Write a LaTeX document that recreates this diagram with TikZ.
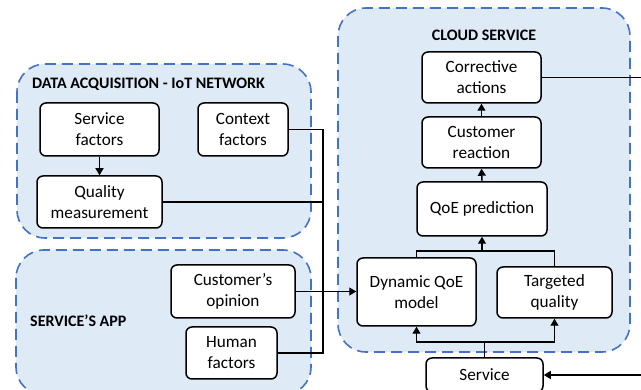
\documentclass[tikz,border=0pt]{standalone}
\usepackage{fontspec}
\setmainfont{Carlito}
\usetikzlibrary{arrows.meta}
\definecolor{grpfill}{HTML}{DEEAF6}
\definecolor{grpline}{HTML}{4472C4}
\tikzset{
  group/.style={draw=grpline, fill=grpfill, line width=1.6pt, dash pattern=on 11pt off 6pt, rounded corners=28pt},
  grptitle/.style={font=\fontsize{16}{19}\selectfont\bfseries, inner sep=0pt},
  box/.style={draw=black, fill=white, line width=1.5pt, rounded corners=6pt, align=center,
    font=\fontsize{17.2}{21}\selectfont, inner sep=0pt},
  wire/.style={line width=1.4pt},
  arr/.style={wire, -{Triangle[length=7pt,width=8pt]}}
}
\begin{document}
\begin{tikzpicture}[x=1pt,y=-1pt]
\useasboundingbox (0,0) rectangle (641,390);
\clip (0,0) rectangle (641,390);

% group panels
\draw[group] (17,64) rectangle (311,238);
\draw[group] (16,250) rectangle (311,395);
\draw[group] (338,8) rectangle (630,352);

\node[grptitle, anchor=west] (tdata) at (32,84) {DATA ACQUISITION - IoT NETWORK};
\node[grptitle, anchor=west] (tapp) at (30,321) {SERVICE’S APP};
\node[grptitle] (tcloud) at (484,35) {CLOUD SERVICE};

% data acquisition
\node[box, minimum width=119pt, minimum height=53pt] (sf) at (99.5,129.5) {Service\\factors};
\node[box, minimum width=90pt, minimum height=53pt] (cf) at (243,129.5) {Context\\factors};
\node[box, minimum width=125pt, minimum height=52pt] (qm) at (99.5,202) {Quality\\measurement};

% service's app
\node[box, minimum width=124pt, minimum height=53pt] (co) at (233,291.5) {Customer’s\\opinion};
\node[box, minimum width=91pt, minimum height=52pt] (hf) at (231.5,353) {Human\\factors};

% cloud service
\node[box, minimum width=119pt, minimum height=51pt] (ca) at (481.5,77.5) {Corrective\\actions};
\node[box, minimum width=119pt, minimum height=51pt] (cr) at (481.5,142.5) {Customer\\reaction};
\node[box, minimum width=130pt, minimum height=54pt] (qp) at (482,209) {QoE prediction};
\node[box, minimum width=119pt, minimum height=68pt] (dq) at (416.5,292) {Dynamic QoE\\model};
\node[box, minimum width=115pt, minimum height=51pt] (tq) at (554.5,292.5) {Targeted\\quality};
\node[box, minimum width=117pt, minimum height=34pt] (sv) at (484.5,375) {Service};

% connectors
\coordinate (bus) at (323,0);
\coordinate (jn) at (482,251);
\coordinate (sj) at (484.5,342);

\draw[arr] (sf.south) -- (qm.north);
\draw[wire] (cf.east) -- (cf.east -| bus) -- (hf.east -| bus) -- (hf.east);
\draw[wire] (qm.east) -- (qm.east -| bus);
\draw[arr] (co.east) -- (co.east -| dq.west);

\draw[wire] (dq.north) |- (jn) -| (tq.north);
\draw[arr] (jn) -- (qp.south);
\draw[arr] (qp.north) -- (cr.south);
\draw[arr] (cr.north) -- (ca.south);

\draw[wire] (sv.north) -- (sj);
\draw[arr] (sj) -| (dq.south);
\draw[arr] (sj) -| (tq.south);

\draw[arr] (ca.east) -- ++(120,0) |- (sv.east);
\end{tikzpicture}
\end{document}
